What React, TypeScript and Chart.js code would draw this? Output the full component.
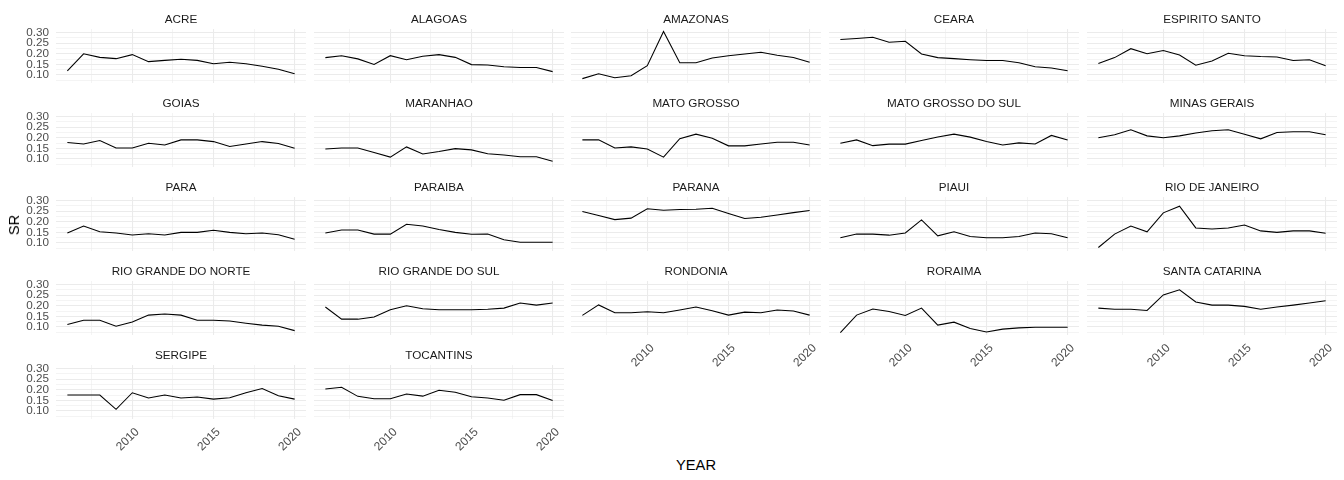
import React, { useEffect, useRef } from 'react';
import { Chart, registerables } from 'chart.js';

Chart.register(...registerables);

const YEARS = [2006, 2007, 2008, 2009, 2010, 2011, 2012, 2013, 2014, 2015, 2016, 2017, 2018, 2019, 2020];

const ACRE = [0.120, 0.200, 0.183, 0.177, 0.196, 0.163, 0.169, 0.174, 0.169, 0.153, 0.160, 0.153, 0.141, 0.127, 0.106];
const ALAGOAS = [0.182, 0.191, 0.176, 0.150, 0.191, 0.172, 0.188, 0.196, 0.183, 0.149, 0.147, 0.139, 0.135, 0.135, 0.116];
const AMAZONAS = [0.083, 0.106, 0.087, 0.097, 0.144, 0.305, 0.158, 0.158, 0.180, 0.191, 0.199, 0.207, 0.193, 0.182, 0.160];
const CEARA = [0.267, 0.272, 0.278, 0.254, 0.259, 0.199, 0.182, 0.177, 0.172, 0.168, 0.168, 0.158, 0.139, 0.133, 0.120];
const ESPIRITO_SANTO = [0.154, 0.182, 0.224, 0.200, 0.215, 0.194, 0.146, 0.166, 0.202, 0.191, 0.187, 0.185, 0.168, 0.172, 0.144];
const GOIAS = [0.178, 0.171, 0.187, 0.152, 0.152, 0.174, 0.166, 0.190, 0.190, 0.182, 0.159, 0.171, 0.182, 0.173, 0.151];
const MARANHAO = [0.147, 0.152, 0.152, 0.131, 0.109, 0.157, 0.124, 0.135, 0.149, 0.143, 0.125, 0.119, 0.111, 0.111, 0.090];
const MATO_GROSSO = [0.190, 0.190, 0.152, 0.157, 0.147, 0.109, 0.196, 0.217, 0.198, 0.162, 0.162, 0.171, 0.179, 0.179, 0.166];
const MATO_GROSSO_DO_SUL = [0.174, 0.190, 0.163, 0.170, 0.170, 0.187, 0.204, 0.217, 0.203, 0.182, 0.166, 0.176, 0.171, 0.211, 0.189];
const MINAS_GERAIS = [0.200, 0.214, 0.238, 0.209, 0.200, 0.209, 0.222, 0.233, 0.238, 0.217, 0.195, 0.225, 0.228, 0.228, 0.214];
const PARA = [0.147, 0.180, 0.153, 0.147, 0.138, 0.144, 0.138, 0.150, 0.150, 0.160, 0.150, 0.144, 0.147, 0.139, 0.118];
const PARAIBA = [0.147, 0.161, 0.161, 0.142, 0.142, 0.188, 0.180, 0.164, 0.150, 0.141, 0.142, 0.115, 0.104, 0.104, 0.104];
const PARANA = [0.248, 0.229, 0.210, 0.217, 0.261, 0.254, 0.258, 0.259, 0.264, 0.239, 0.215, 0.221, 0.232, 0.243, 0.253];
const PIAUI = [0.125, 0.142, 0.142, 0.137, 0.147, 0.209, 0.134, 0.153, 0.131, 0.125, 0.125, 0.131, 0.147, 0.144, 0.125];
const RIO_DE_JANEIRO = [0.079, 0.142, 0.180, 0.153, 0.242, 0.273, 0.171, 0.166, 0.171, 0.185, 0.157, 0.150, 0.157, 0.157, 0.146];
const RIO_GRANDE_DO_NORTE = [0.112, 0.132, 0.132, 0.104, 0.124, 0.156, 0.161, 0.156, 0.132, 0.132, 0.128, 0.118, 0.109, 0.104, 0.083];
const RIO_GRANDE_DO_SUL = [0.194, 0.137, 0.137, 0.147, 0.181, 0.200, 0.186, 0.181, 0.181, 0.181, 0.184, 0.189, 0.213, 0.203, 0.213];
const RONDONIA = [0.155, 0.204, 0.167, 0.167, 0.172, 0.167, 0.180, 0.194, 0.177, 0.156, 0.170, 0.167, 0.180, 0.175, 0.156];
const RORAIMA = [0.074, 0.156, 0.185, 0.173, 0.154, 0.189, 0.109, 0.123, 0.093, 0.077, 0.090, 0.096, 0.099, 0.099, 0.099];
const SANTA_CATARINA = [0.189, 0.184, 0.184, 0.178, 0.251, 0.275, 0.218, 0.203, 0.203, 0.197, 0.184, 0.194, 0.203, 0.213, 0.224];
const SERGIPE = [0.175, 0.175, 0.175, 0.108, 0.186, 0.161, 0.175, 0.161, 0.166, 0.156, 0.162, 0.186, 0.206, 0.172, 0.156];
const TOCANTINS = [0.204, 0.212, 0.169, 0.158, 0.158, 0.180, 0.170, 0.198, 0.188, 0.167, 0.161, 0.151, 0.177, 0.177, 0.150];

const STATE_NAMES = [
  'ACRE', 'ALAGOAS', 'AMAZONAS', 'CEARA', 'ESPIRITO SANTO',
  'GOIAS', 'MARANHAO', 'MATO GROSSO', 'MATO GROSSO DO SUL', 'MINAS GERAIS',
  'PARA', 'PARAIBA', 'PARANA', 'PIAUI', 'RIO DE JANEIRO',
  'RIO GRANDE DO NORTE', 'RIO GRANDE DO SUL', 'RONDONIA', 'RORAIMA', 'SANTA CATARINA',
  'SERGIPE', 'TOCANTINS',
];
const STATE_VALUES = [
  ACRE, ALAGOAS, AMAZONAS, CEARA, ESPIRITO_SANTO,
  GOIAS, MARANHAO, MATO_GROSSO, MATO_GROSSO_DO_SUL, MINAS_GERAIS,
  PARA, PARAIBA, PARANA, PIAUI, RIO_DE_JANEIRO,
  RIO_GRANDE_DO_NORTE, RIO_GRANDE_DO_SUL, RONDONIA, RORAIMA, SANTA_CATARINA,
  SERGIPE, TOCANTINS,
];

const X_GRID_TICKS = [2007.5, 2010, 2012.5, 2015, 2017.5, 2020];
const X_LABEL_TICKS = [2010, 2015, 2020];
const Y_GRID_TICKS = [0.075, 0.1, 0.125, 0.15, 0.175, 0.2, 0.225, 0.25, 0.275, 0.3];
const Y_LABEL_TICKS = [0.1, 0.15, 0.2, 0.25, 0.3];

// ggplot-like 5% expansion of the shared (fixed) scales
const allVals = STATE_VALUES.flat();
const Y_MIN_D = Math.min(...allVals);
const Y_MAX_D = Math.max(...allVals);
const Y_MIN = Y_MIN_D - 0.05 * (Y_MAX_D - Y_MIN_D);
const Y_MAX = Y_MAX_D + 0.05 * (Y_MAX_D - Y_MIN_D);
const X_MIN = YEARS[0] - 0.05 * (YEARS[YEARS.length - 1] - YEARS[0]);
const X_MAX = YEARS[YEARS.length - 1] + 0.05 * (YEARS[YEARS.length - 1] - YEARS[0]);

const FONT = '"Liberation Sans", Arial, Helvetica, sans-serif';
const COLS = 5;
const PANEL_LEFTS = [56, 314, 571, 829, 1087];
const PANEL_TOPS = [29, 113, 197, 281, 365];
const PANEL_W = 250;
const PANEL_H = 54;

Chart.defaults.font.family = FONT;

const isMajor = (v: number, step: number) => Math.abs(v / step - Math.round(v / step)) < 1e-6;

function Panel({ index }: { index: number }) {
  const ref = useRef<HTMLCanvasElement | null>(null);
  const col = index % COLS;
  const row = Math.floor(index / COLS);
  const isLeft = col === 0;
  const isBottom = index + COLS >= STATE_NAMES.length;
  const padL = isLeft ? 56 : 6;
  const padR = 6;
  const padT = 28;
  const padB = isBottom ? 56 : 6;
  const left = PANEL_LEFTS[col] - padL;
  const top = PANEL_TOPS[row] - padT;
  const width = PANEL_W + padL + padR;
  const height = PANEL_H + padT + padB;

  useEffect(() => {
    if (!ref.current) return;
    const name = STATE_NAMES[index];
    const vals = STATE_VALUES[index];
    const stripPlugin = {
      id: 'strip',
      afterDraw(chart: any) {
        const { ctx, chartArea } = chart;
        ctx.save();
        ctx.font = `11.7px ${FONT}`;
        ctx.fillStyle = '#1A1A1A';
        ctx.textAlign = 'center';
        ctx.textBaseline = 'middle';
        ctx.fillText(name, (chartArea.left + chartArea.right) / 2, chartArea.top - 9);
        ctx.restore();
      },
    };
    const chart = new Chart(ref.current, {
      type: 'line',
      data: {
        datasets: [
          {
            data: YEARS.map((y, i) => ({ x: y, y: vals[i] })),
            borderColor: '#000000',
            borderWidth: 1.07,
            pointRadius: 0,
            fill: false,
            tension: 0,
          },
        ],
      },
      options: {
        animation: false,
        responsive: true,
        maintainAspectRatio: false,
        events: [],
        layout: {
          padding: {
            left: isLeft ? 0 : padL,
            right: padR,
            top: padT,
            bottom: isBottom ? 0 : padB,
          },
        },
        plugins: {
          legend: { display: false },
          tooltip: { enabled: false },
          title: { display: false },
        },
        scales: {
          x: {
            type: 'linear',
            min: X_MIN,
            max: X_MAX,
            afterBuildTicks: (s: any) => {
              s.ticks = X_GRID_TICKS.map((v) => ({ value: v }));
            },
            afterFit: (s: any) => {
              s.height = isBottom ? padB : 0;
              s.paddingLeft = 0;
              s.paddingRight = 0;
              s.paddingTop = 0;
              s.paddingBottom = 0;
            },
            border: { display: false },
            grid: {
              color: '#EBEBEB',
              drawTicks: false,
              lineWidth: (ctx: any) => (ctx.tick && isMajor(ctx.tick.value, 5) ? 1.07 : 0.53),
            },
            ticks: {
              display: isBottom,
              autoSkip: false,
              minRotation: 45,
              maxRotation: 45,
              padding: 6,
              labelOffset: 5,
              color: '#4D4D4D',
              font: { size: 12, family: FONT },
              callback: (v: any) => (X_LABEL_TICKS.some((t) => Math.abs(t - v) < 1e-6) ? String(v) : ''),
            },
          },
          y: {
            type: 'linear',
            min: Y_MIN,
            max: Y_MAX,
            afterBuildTicks: (s: any) => {
              s.ticks = Y_GRID_TICKS.map((v) => ({ value: v }));
            },
            afterFit: (s: any) => {
              s.width = isLeft ? padL : 0;
              s.paddingLeft = 0;
              s.paddingRight = 0;
              s.paddingTop = 0;
              s.paddingBottom = 0;
            },
            border: { display: false },
            grid: {
              color: '#EBEBEB',
              drawTicks: false,
              lineWidth: (ctx: any) => (ctx.tick && isMajor(ctx.tick.value, 0.05) ? 1.07 : 0.53),
            },
            ticks: {
              display: isLeft,
              autoSkip: false,
              padding: 7,
              color: '#4D4D4D',
              font: { size: 11.7, family: FONT },
              callback: (v: any) =>
                Y_LABEL_TICKS.some((t) => Math.abs(t - v) < 1e-6) ? Number(v).toFixed(2) : '',
            },
          },
        },
      } as any,
      plugins: [stripPlugin],
    });
    return () => chart.destroy();
  }, [index]);

  return (
    <div style={{ position: 'absolute', left, top, width, height }}>
      <canvas ref={ref} />
    </div>
  );
}

export default function App() {
  return (
    <div
      style={{
        position: 'fixed',
        left: 0,
        top: 0,
        width: 1344,
        height: 480,
        background: '#ffffff',
        overflow: 'hidden',
        fontFamily: FONT,
      }}
    >
      {STATE_NAMES.map((_, i) => (
        <Panel key={i} index={i} />
      ))}
      <div
        style={{
          position: 'absolute',
          left: 696,
          top: 465,
          transform: 'translate(-50%, -50%)',
          fontSize: 14.7,
          color: '#000',
          whiteSpace: 'nowrap',
        }}
      >
        YEAR
      </div>
      <div
        style={{
          position: 'absolute',
          left: 14,
          top: 225,
          transform: 'translate(-50%, -50%) rotate(-90deg)',
          fontSize: 14.7,
          color: '#000',
          whiteSpace: 'nowrap',
        }}
      >
        SR
      </div>
    </div>
  );
}
